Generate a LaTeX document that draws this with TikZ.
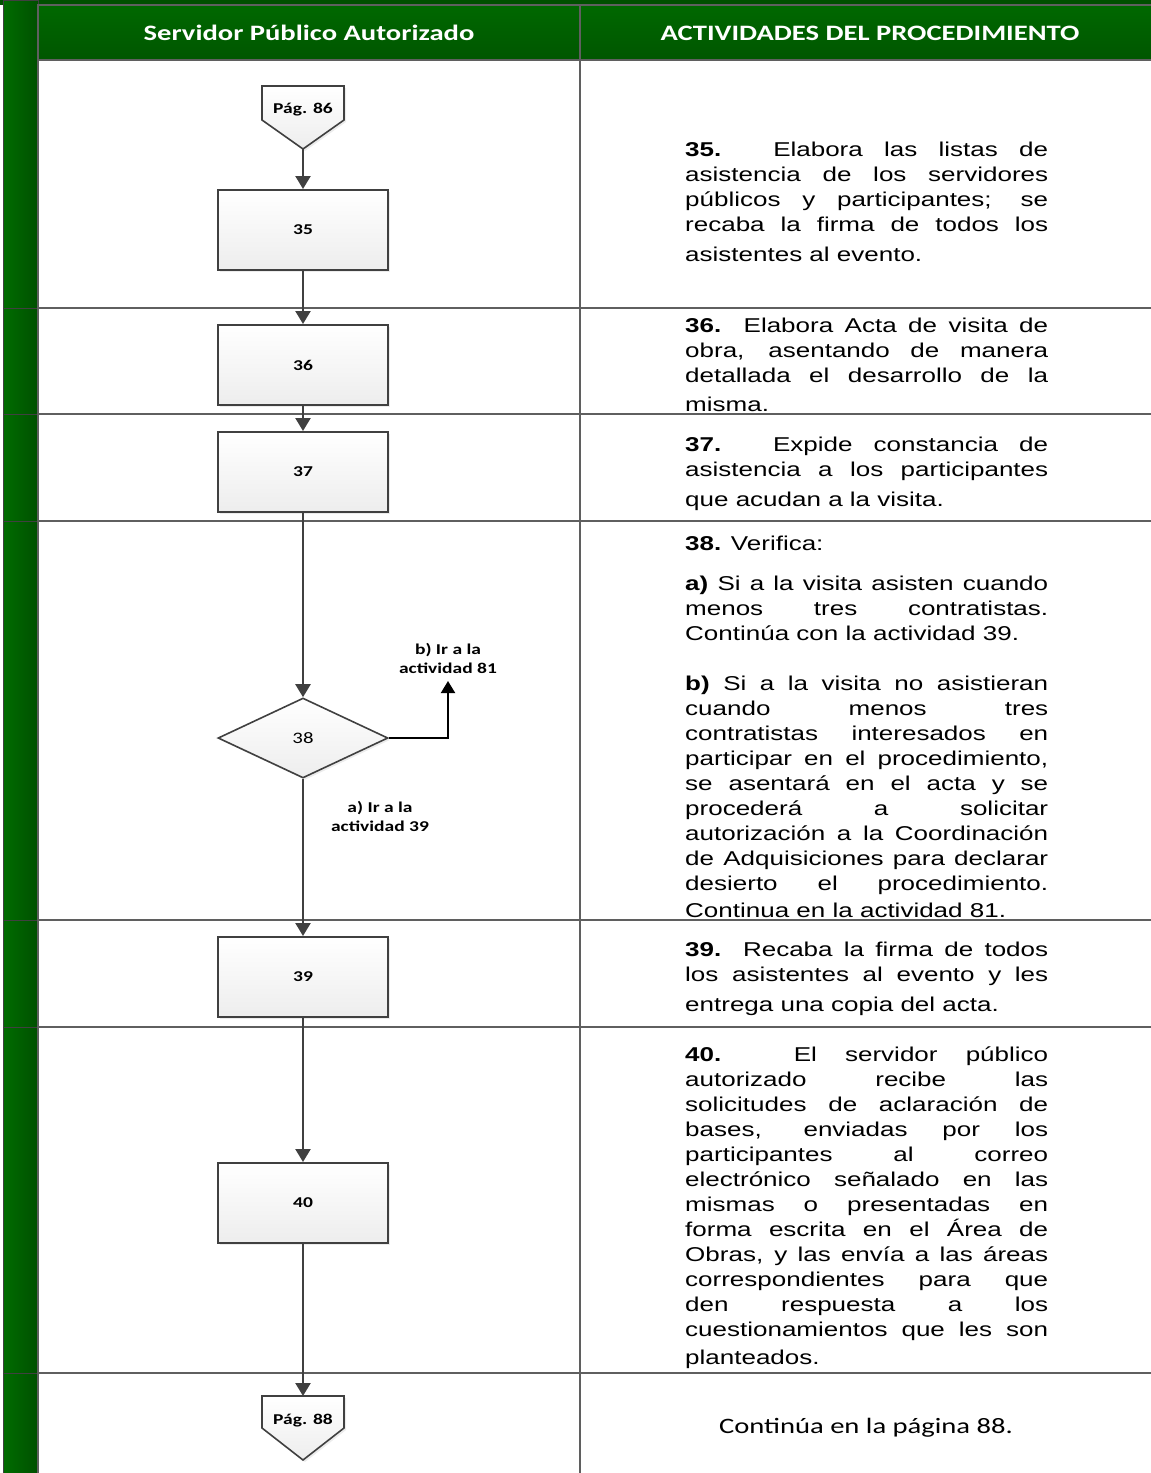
\documentclass[tikz,border=0pt]{standalone}
\usepackage{fontspec}
\setmainfont{Liberation Sans}[FakeStretch=1.3]
\newfontfamily\calfont{Carlito}[FakeStretch=1.3]
\usetikzlibrary{arrows.meta,shapes.geometric,shadows}

\definecolor{hdgreen}{RGB}{0,104,0}
\definecolor{hdgreendark}{RGB}{0,86,0}
\definecolor{bargreen}{RGB}{0,108,0}
\definecolor{bargreendark}{RGB}{0,80,0}
\definecolor{rowline}{RGB}{95,95,95}
\definecolor{boxline}{RGB}{64,64,64}

\newcommand\jl[1]{\hbox to363pt{\strut #1}}
\newcommand\lastl[1]{\hbox to363pt{\strut #1\hfil}}

\tikzset{
	stepbox/.style={rectangle, draw=boxline, line width=2pt, top color=white, bottom color=black!7,
		minimum width=170pt, minimum height=80pt, inner sep=0pt,
		font=\calfont\bfseries\fontsize{15}{18}\selectfont,
		drop shadow={shadow xshift=2pt, shadow yshift=-2pt, opacity=0.25, fill=black!30}},
	decision/.style={diamond, draw=boxline, line width=1.6pt, top color=white, bottom color=black!7,
		minimum width=170pt, minimum height=80pt, inner sep=0pt,
		font=\calfont\fontsize{16}{18}\selectfont,
		drop shadow={shadow xshift=2pt, shadow yshift=-2pt, opacity=0.25, fill=black!30}},
	offpage/.style={draw=boxline, line width=1.6pt, top color=white, bottom color=black!7,
		drop shadow={shadow xshift=2pt, shadow yshift=-2pt, opacity=0.25, fill=black!30}},
	pagetext/.style={font=\calfont\bfseries\fontsize{15}{18}\selectfont, inner sep=0pt},
	flow/.style={draw=boxline, line width=2.3pt, arrows={-Triangle[width=15pt,length=13pt]}},
	branch/.style={draw=black, line width=2pt, arrows={-Triangle[width=14pt,length=12pt]}},
	branchlabel/.style={font=\calfont\bfseries\fontsize{15}{19}\selectfont, align=center, inner sep=0pt},
	headtext/.style={font=\calfont\bfseries\fontsize{22}{26}\selectfont, text=white, inner sep=0pt},
	activity/.style={anchor=north west, inner sep=0pt, font=\fontsize{20}{25}\selectfont}
}

\begin{document}
\begin{tikzpicture}[x=1pt, y=-1pt]

	\useasboundingbox (0,0) rectangle (1151,1473);

	\fill [bargreendark] (0,0) rectangle (1151,5);
	\foreach \ya/\yb in {0/308, 308/414, 414/521, 521/920, 920/1027, 1027/1373, 1373/1473}
		\draw [draw=black!75, line width=1pt, left color=bargreen, right color=bargreendark] (3,\ya) rectangle (38,\yb);
	\draw [draw=rowline, line width=1.2pt, top color=hdgreen, bottom color=hdgreendark] (38,5) rectangle (1152,60);
	\draw [rowline, line width=1.2pt] (580,5) -- (580,1474);
	\draw [rowline, line width=1.2pt] (38,60) -- (38,1474);
	\foreach \y in {308,414,521,920,1027,1373}
		\draw [rowline, line width=1.2pt] (38,\y) -- (1152,\y);

	\node [headtext] (hleft) at (309,33) {Servidor Público Autorizado};
	\node [headtext] (hright) at (870,33) {ACTIVIDADES DEL PROCEDIMIENTO};

	\draw [offpage] (262,86) -- (344,86) -- (344,120) -- (303,149) -- (262,120) -- cycle;
	\node [pagetext] (p86) at (303,110) {Pág. 86};
	\coordinate (p86tip) at (303,149);

	\node [stepbox] (b35) at (303,230) {35};
	\node [stepbox] (b36) at (303,365) {36};
	\node [stepbox] (b37) at (303,472) {37};
	\node [decision] (d38) at (303,738) {38};
	\node [stepbox] (b39) at (303,977) {39};
	\node [stepbox] (b40) at (303,1203) {40};

	\draw [offpage] (262,1396) -- (344,1396) -- (344,1428) -- (303,1460) -- (262,1428) -- cycle;
	\node [pagetext] (p88) at (303,1421) {Pág. 88};
	\coordinate (p88top) at (303,1396);

	\draw [flow] (p86tip) -- (b35);
	\draw [flow] (b35) -- (b36);
	\draw [flow] (b36) -- (b37);
	\draw [flow] (b37) -- (d38);
	\draw [flow] (d38) -- (b39);
	\draw [flow] (b39) -- (b40);
	\draw [flow] (b40) -- (p88top);

	\coordinate (c81) at (448,681);
	\draw [branch] (d38.east) -| (c81);
	\node [branchlabel] (l81) at (448,658) {b) Ir a la\\actividad 81};
	\node [branchlabel] (l39) at (380,816) {a) Ir a la\\actividad 39};

	\node [activity] (t35) at (685,138.5) {\vtop{%
		\jl{\textbf{35.} Elabora las listas de}
		\jl{asistencia de los servidores}
		\jl{públicos y participantes; se}
		\jl{recaba la firma de todos los}
		\kern5pt
		\lastl{asistentes al evento.}}};

	\node [activity] (t36) at (685,314.5) {\vtop{%
		\jl{\textbf{36.} Elabora Acta de visita de}
		\jl{obra, asentando de manera}
		\jl{detallada el desarrollo de la}
		\kern4pt
		\lastl{misma.}}};

	\node [activity] (t37) at (685,433.5) {\vtop{%
		\jl{\textbf{37.} Expide constancia de}
		\jl{asistencia a los participantes}
		\kern5pt
		\lastl{que acudan a la visita.}}};

	\node [activity] (t38) at (685,532.5) {\vtop{%
		\lastl{\textbf{38.} Verifica:}
		\kern15pt
		\jl{\textbf{a)} Si a la visita asisten cuando}
		\jl{menos tres contratistas.}
		\lastl{Continúa con la actividad 39.}
		\kern25pt
		\jl{\textbf{b)} Si a la visita no asistieran}
		\jl{cuando menos tres}
		\jl{contratistas interesados en}
		\jl{participar en el procedimiento,}
		\jl{se asentará en el acta y se}
		\jl{procederá a solicitar}
		\jl{autorización a la Coordinación}
		\jl{de Adquisiciones para declarar}
		\jl{desierto el procedimiento.}
		\kern2pt
		\lastl{Continua en la actividad 81.}}};

	\node [activity] (t39) at (685,938.5) {\vtop{%
		\jl{\textbf{39.} Recaba la firma de todos}
		\jl{los asistentes al evento y les}
		\kern5pt
		\lastl{entrega una copia del acta.}}};

	\node [activity] (t40) at (685,1043.5) {\vtop{%
		\jl{\textbf{40.} El servidor público}
		\jl{autorizado recibe las}
		\jl{solicitudes de aclaración de}
		\jl{bases, enviadas por los}
		\jl{participantes al correo}
		\jl{electrónico señalado en las}
		\jl{mismas o presentadas en}
		\jl{forma escrita en el Área de}
		\jl{Obras, y las envía a las áreas}
		\jl{correspondientes para que}
		\jl{den respuesta a los}
		\jl{cuestionamientos que les son}
		\kern3pt
		\lastl{planteados.}}};

	\node [font=\calfont\fontsize{22}{26}\selectfont, inner sep=0pt] (t88) at (866,1428) {Continúa en la página 88.};

\end{tikzpicture}
\end{document}
